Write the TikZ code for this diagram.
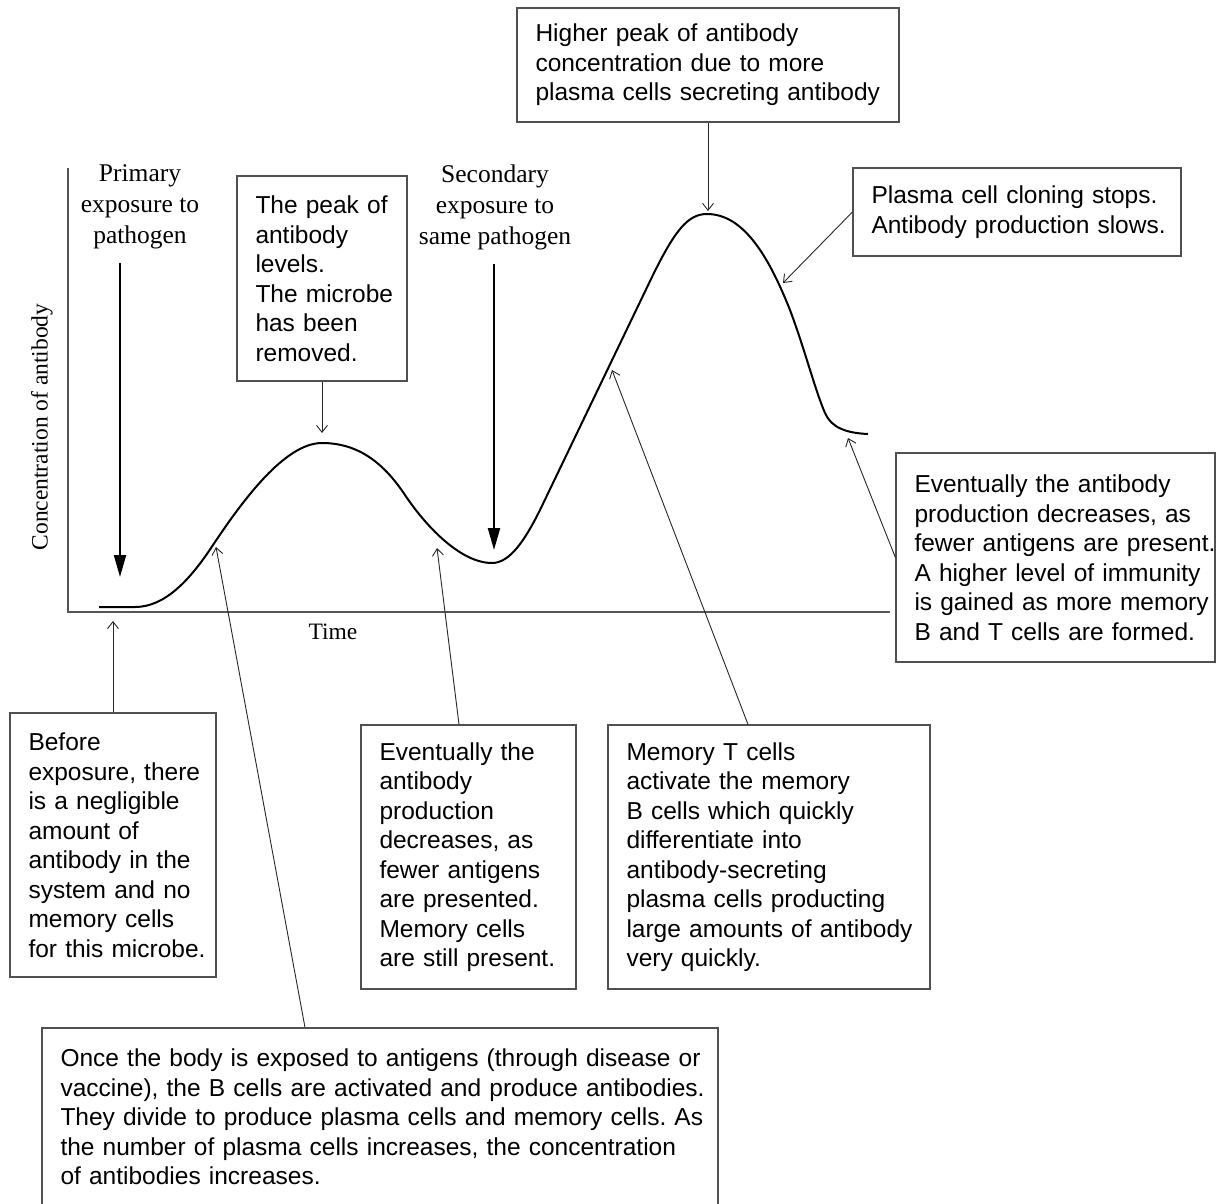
\documentclass[tikz,border=0pt]{standalone}
\usepackage{fontspec}
\setmainfont{Liberation Serif}
\setsansfont{Liberation Sans}
\usetikzlibrary{arrows.meta}
\definecolor{boxGrey}{RGB}{80,80,80}
\definecolor{axisGrey}{RGB}{85,85,85}

\begin{document}
\begin{tikzpicture}[x=1pt, y=-1pt,
    noteBox/.style={draw=boxGrey, line width=1.2pt, align=left,
      font=\sffamily\fontsize{24.5}{29.5}\selectfont, inner xsep=18.5pt, inner ysep=0pt,
      execute at begin node={\hyphenpenalty=10000\exhyphenpenalty=10000}},
    serifLabel/.style={font=\fontsize{25.5}{31}\selectfont, align=center, inner sep=0pt},
    thinArrow/.style={black!85, line width=0.9pt, -{Straight Barb[length=7pt, width=11pt]}},
    expoArrow/.style={line width=2.2pt, shorten <=14pt, -{Triangle[length=22pt, width=12pt]}}]
  \useasboundingbox (0,0) rectangle (1216,1203);

  % Axes
  \draw[axisGrey, line width=1.3pt] (68,168) -- (68,612) -- (890,612);
  \node[rotate=90, font=\fontsize{23.5}{28}\selectfont] (ylab) at (42,427) {Concentration of antibody};
  \node[font=\fontsize{23.5}{28}\selectfont] (xlab) at (333,632) {Time};

  % Antibody curve (primary then secondary response)
  \draw[line width=2pt, line join=round] (99,607) -- (135,607)
    .. controls (165,607) and (190,580) .. (213,545)
    .. controls (243,500) and (285,443) .. (322,443)
    .. controls (360,443) and (385,465) .. (405,495)
    .. controls (425,525) and (460,563) .. (492,563)
    .. controls (510,563) and (525,540) .. (540,510)
    -- (652,277)
    .. controls (675,230) and (688,214) .. (707,214)
    .. controls (745,214) and (770,260) .. (790,310)
    .. controls (805,350) and (815,390) .. (825,413)
    .. controls (831,427) and (845,433) .. (868,434);

  % Points on the curve
  \coordinate (base) at (113,621);
  \coordinate (riseone) at (216,547);
  \coordinate (topone) at (322,433);
  \coordinate (fallone) at (437,548);
  \coordinate (risetwo) at (612,370);
  \coordinate (toptwo) at (708,211);
  \coordinate (falltwo) at (783,283);
  \coordinate (tailtwo) at (848,438);
  \coordinate (prim) at (120,577);
  \coordinate (seco) at (494,550);

  % Exposures
  \node[serifLabel] (primary) at (140,207) {Primary\\exposure to\\pathogen};
  \node[serifLabel] (secondary) at (495,207) {Secondary\\exposure to\\same pathogen};
  \draw[expoArrow] (primary.south -| prim) -- (prim);
  \draw[expoArrow] (secondary.south -| seco) -- (seco);

  % Notes
  \node[noteBox, text width=345pt, minimum height=114pt] (higher) at (708,65)
    {Higher peak of antibody\\concentration due to more\\plasma~cells~secreting~antibody};
  \node[noteBox, text width=133pt, minimum height=205pt] (peakone) at (322,278.5)
    {The~peak~of\\antibody\\levels.\\The~microbe\\has~been\\removed.};
  \node[noteBox, text width=291pt, minimum height=88pt] (plasma) at (1017,212)
    {Plasma~cell~cloning~stops.\\Antibody~production~slows.};
  \node[noteBox, text width=282pt, minimum height=209pt] (later) at (1055.5,557.5)
    {Eventually~the~antibody\\production~decreases,~as\\fewer~antigens~are~present.\\A~higher~level~of~immunity\\is~gained~as~more~memory\\B~and~T~cells~are~formed.};
  \node[noteBox, text width=169pt, minimum height=264pt] (before) at (113,845)
    {Before\\exposure,~there\\is~a~negligible\\amount~of\\antibody~in~the\\system~and~no\\memory~cells\\for~this~microbe.};
  \node[noteBox, text width=178pt, minimum height=264pt] (fall) at (468.5,857)
    {Eventually~the\\antibody\\production\\decreases,~as\\fewer~antigens\\are~presented.\\Memory~cells\\are~still~present.};
  \node[noteBox, text width=285pt, minimum height=264pt] (memory) at (769,857)
    {Memory~T~cells\\activate~the~memory\\B~cells~which~quickly\\differentiate~into\\antibody-secreting\\plasma~cells~producting\\large~amounts~of~antibody\\very~quickly.};
  \node[noteBox, text width=639pt, minimum height=178pt] (once) at (380,1117)
    {Once~the~body~is~exposed~to~antigens~(through~disease~or\\vaccine),~the~B~cells~are~activated~and~produce~antibodies.\\They~divide~to~produce~plasma~cells~and~memory~cells.~As\\the~number~of~plasma~cells~increases,~the~concentration\\of~antibodies~increases.};

  % Connectors
  \draw[thinArrow] (higher.south) -- (toptwo);
  \draw[thinArrow] (peakone.south) -- (topone);
  \draw[thinArrow] (plasma.west) -- (falltwo);
  \draw[thinArrow] (later.west) -- (tailtwo);
  \draw[thinArrow] (before.north) -- (base);
  \draw[thinArrow] ([xshift=-75pt]once.north) -- (riseone);
  \draw[thinArrow] ([xshift=-9.5pt]fall.north) -- (fallone);
  \draw[thinArrow] ([xshift=-21pt]memory.north) -- (risetwo);
\end{tikzpicture}
\end{document}
